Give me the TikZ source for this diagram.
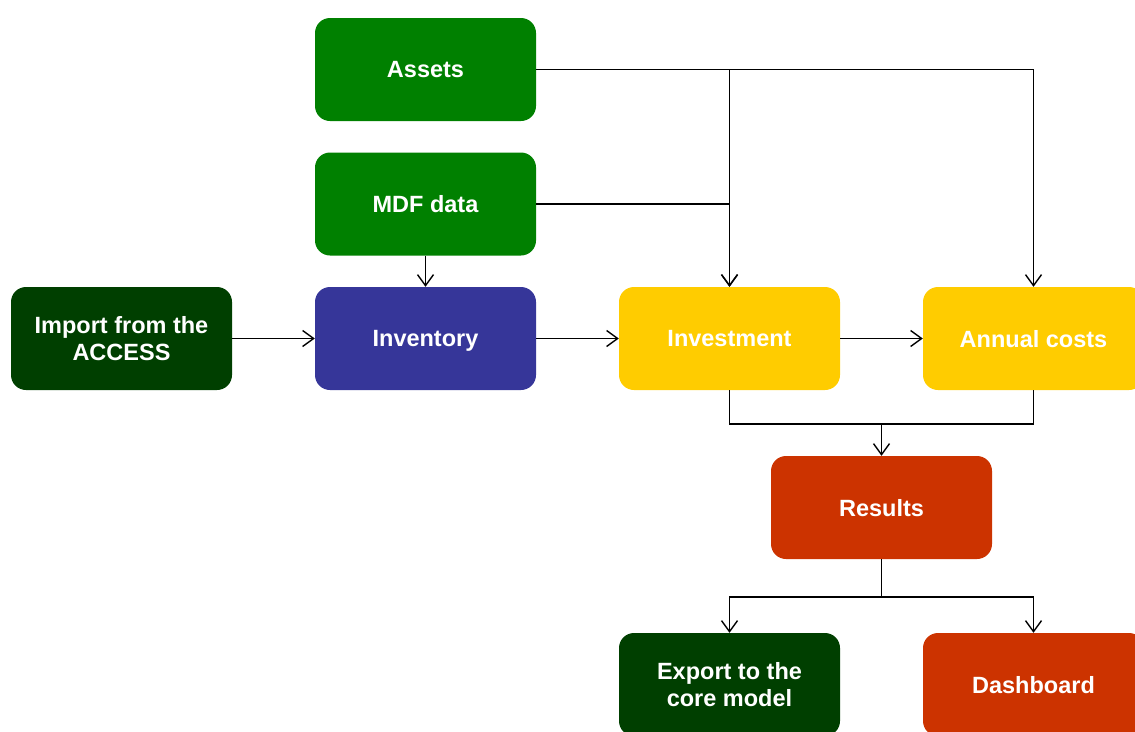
\documentclass[tikz,border=0pt]{standalone}
\usepackage{fontspec}
\setmainfont{Liberation Sans}
\usetikzlibrary{arrows.meta}
\definecolor{cgreen}{HTML}{008000}
\definecolor{cdkgreen}{HTML}{003F00}
\definecolor{cblue}{HTML}{363699}
\definecolor{cyellow}{HTML}{FFCC00}
\definecolor{cred}{HTML}{CC3300}
\begin{document}
\begin{tikzpicture}[x=1pt,y=-1pt,
  box/.style={rounded corners=15pt, minimum width=221pt, minimum height=103pt,
    inner sep=0pt, text=white, align=center,
    font=\bfseries\fontsize{23.5}{27.5}\selectfont},
  oneline/.style={text depth=0pt},
  conn/.style={line width=1.4pt, -{Straight Barb[length=11pt,width=16pt,line width=1.4pt]}},
  plain/.style={line width=1.4pt}]
\useasboundingbox (0,0) rectangle (1135,731);
\clip (0,0) rectangle (1135,731);
\node[box, oneline, fill=cgreen] (assets) at (425.5,69.5) {Assets};
\node[box, oneline, fill=cgreen] (mdf) at (425.5,204) {MDF data};
\node[box, fill=cdkgreen] (import) at (121.5,338.5) {Import from the\\ACCESS};
\node[box, oneline, fill=cblue] (inventory) at (425.5,338.5) {Inventory};
\node[box, oneline, fill=cyellow] (investment) at (729.5,338.5) {Investment};
\node[box, oneline, fill=cyellow] (annual) at (1033.5,338.5) {Annual costs};
\node[box, oneline, fill=cred] (results) at (881.5,507.5) {Results};
\node[box, fill=cdkgreen] (export) at (729.5,684.5) {Export to the\\core model};
\node[box, oneline, fill=cred] (dashboard) at (1033.5,684.5) {Dashboard};
\coordinate (jr) at (881.5,424);
\coordinate (js) at (881.5,597);
\draw[conn] (assets.east) -| (annual.north);
\draw[conn] (assets.east) -| (investment.north);
\draw[conn] (mdf.east) -| (investment.north);
\draw[conn] (mdf.south) -- (inventory.north);
\draw[conn] (import) -- (inventory);
\draw[conn] (inventory) -- (investment);
\draw[conn] (investment) -- (annual);
\draw[plain] (investment.south) |- (jr);
\draw[plain] (annual.south) |- (jr);
\draw[conn] (jr) -- (results.north);
\draw[plain] (results.south) -- (js);
\draw[conn] (js) -| (export.north);
\draw[conn] (js) -| (dashboard.north);
\end{tikzpicture}
\end{document}
